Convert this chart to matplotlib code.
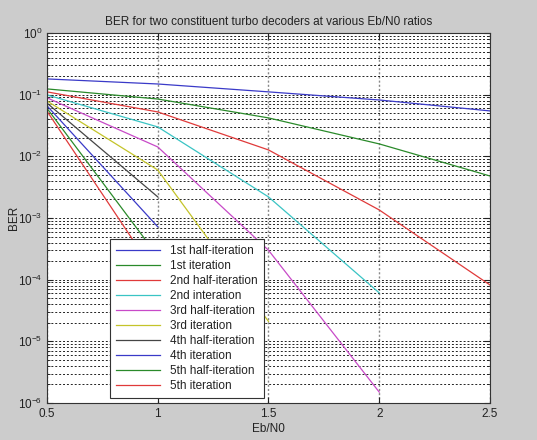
import matplotlib
matplotlib.use("Agg")
import matplotlib.pyplot as plt
import numpy as np
from matplotlib.ticker import LogLocator, NullFormatter, FixedLocator

plt.rcParams['font.family'] = ['Liberation Sans', 'DejaVu Sans']

ebn0 = [0.5, 1.0, 1.5, 2.0, 2.5]

labels = ["1st half-iteration", "1st iteration", "2nd half-iteration",
          "2nd interation", "3rd half-iteration", "3rd iteration",
          "4th half-iteration", "4th iteration", "5th half-iteration",
          "5th iteration"]

ber_1h = [0.18, 0.149, 0.111, 0.082, 0.0545]
ber_1 = [0.124, 0.085, 0.042, 0.0159, 0.0048]
ber_2h = [0.111, 0.0525, 0.0127, 0.00135, 8.2e-5]
ber_2 = [0.099, 0.030, 0.0022, 6.1e-5]
ber_3h = [0.089, 0.0142, 3.0e-4, 1.5e-6]
ber_3 = [0.079, 0.006, 2.1e-5]
ber_4h = [0.073, 0.0022]
ber_4 = [0.066, 7.2e-4]
ber_5h = [0.060, 2.4e-4]
ber_5 = [0.054, 1.1e-4]

series = [ber_1h, ber_1, ber_2h, ber_2, ber_3h, ber_3, ber_4h, ber_4, ber_5h, ber_5]

colors = ["#3a3ac8", "#2a8a2a", "#e03a3a", "#3ac4c4", "#c84ac8",
          "#c4c42a", "#454545", "#3a3ac8", "#2a8a2a", "#e03a3a"]

fig = plt.figure(figsize=(5.37, 4.40), dpi=100, facecolor="#cccccc")
ax = fig.add_axes([47/537, 37/440, 443/537, 370/440])
ax.set_facecolor("white")

for vals, lab, c in zip(series, labels, colors):
    ax.semilogy(ebn0[:len(vals)], vals, color=c, lw=0.9, label=lab)

ax.set_xlim(0.5, 2.5)
ax.set_ylim(1e-6, 1)
ax.xaxis.set_major_locator(FixedLocator([0.5, 1, 1.5, 2, 2.5]))
ax.set_xticklabels(["0.5", "1", "1.5", "2", "2.5"])
ax.yaxis.set_major_locator(LogLocator(base=10, numticks=10))
ax.yaxis.set_minor_locator(LogLocator(base=10, subs=np.arange(2, 10), numticks=20))
ax.yaxis.set_minor_formatter(NullFormatter())

ax.grid(True, which="major", axis="x", color="#888888", linestyle=(0, (1.5, 1.5)), lw=1.0)
ax.grid(True, which="both", axis="y", color="#222222", linestyle=(0, (2, 2)), lw=0.7)

ax.tick_params(which="both", direction="in", top=True, right=True, labelsize=8.5,
               colors="#222222")
ax.tick_params(which="major", length=4)
ax.tick_params(which="minor", length=2)
for s in ax.spines.values():
    s.set_color("#333333")
    s.set_linewidth(0.8)

ax.set_title("BER for two constituent turbo decoders at various Eb/N0 ratios",
             fontsize=8.5, color="#222222", pad=6)
ax.set_xlabel("Eb/N0", fontsize=8.5, color="#222222", labelpad=2)
ax.set_ylabel("BER", fontsize=8.5, color="#222222")
ax.yaxis.set_label_coords(-0.062, 0.5)

leg = ax.legend(loc="lower left", bbox_to_anchor=(0.142, 0.013), fontsize=8.5,
                fancybox=False, framealpha=1, edgecolor="#333333",
                handlelength=3.7, labelspacing=0.25, borderpad=0.55,
                handletextpad=0.8, borderaxespad=0)
leg.get_frame().set_linewidth(0.8)
for t in leg.get_texts():
    t.set_color("#222222")

fig.savefig("out.png", dpi=100, facecolor=fig.get_facecolor())
